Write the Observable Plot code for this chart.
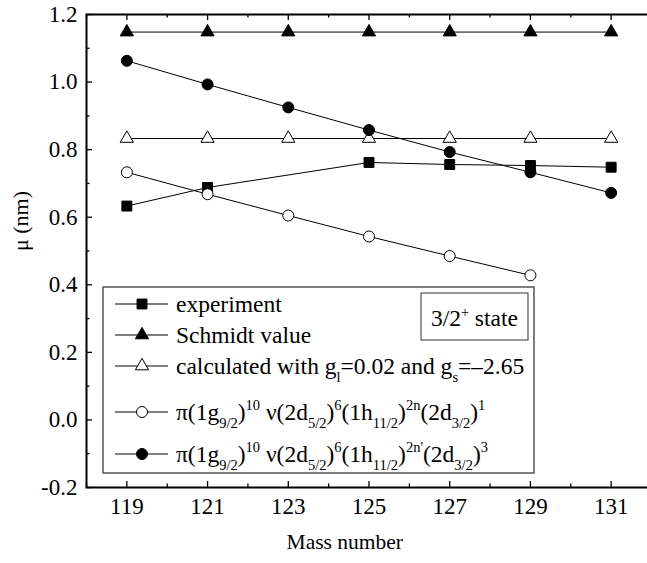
<!DOCTYPE html>
<html>
<head>
<meta charset="utf-8">
<script src="https://cdn.jsdelivr.net/npm/d3@7"></script>
<script src="https://cdn.jsdelivr.net/npm/@observablehq/plot@0.6"></script>
<style>
  html, body { margin: 0; padding: 0; background: white; }
  #chart { width: 647px; height: 563px; overflow: hidden; }
</style>
</head>
<body>
<div id="chart"></div>
<script>
// ---- data ----
const massNumbers = [119, 121, 123, 125, 127, 129, 131];
const experimentMass = [119, 121, 125, 127, 129, 131];
const experimentValues = [0.633, 0.688, 0.762, 0.756, 0.753, 0.748];
const schmidtValues = [1.148, 1.148, 1.148, 1.148, 1.148, 1.148, 1.148];
const calculatedValues = [0.833, 0.833, 0.833, 0.833, 0.833, 0.833, 0.833];
const config1Mass = [119, 121, 123, 125, 127, 129];
const config1Values = [0.733, 0.668, 0.605, 0.543, 0.485, 0.428];
const config3Values = [1.063, 0.993, 0.925, 0.858, 0.793, 0.733, 0.672];

const xMajorTicks = [119, 121, 123, 125, 127, 129, 131];
const xMinorTicks = [118, 120, 122, 124, 126, 128, 130, 132];
const yMajorTicks = [-0.2, 0, 0.2, 0.4, 0.6, 0.8, 1.0, 1.2];
const yMinorTicks = [-0.1, 0.1, 0.3, 0.5, 0.7, 0.9, 1.1];
const xDomain = [118, 132];
const yDomain = [-0.2, 1.2];

const xLabel = "Mass number";
const yLabel = "\u03bc (nm)";

const toRows = (xs, ys) => xs.map((x, i) => ({x, y: ys[i]}));
const experiment = toRows(experimentMass, experimentValues);
const schmidt = toRows(massNumbers, schmidtValues);
const calculated = toRows(massNumbers, calculatedValues);
const config1 = toRows(config1Mass, config1Values);
const config3 = toRows(massNumbers, config3Values);

const FONT = "Liberation Serif, Times New Roman, serif";
const R = {square: 5.6, triangle: 4.9, circle: 5.5};

function series(data, symbol, fill) {
  return [
    Plot.line(data, {x: "x", y: "y", stroke: "black", strokeWidth: 1}),
    Plot.dot(data, {x: "x", y: "y", symbol, r: R[symbol], fill, stroke: "black", strokeWidth: 1})
  ];
}

const plot = Plot.plot({
  width: 647,
  height: 563,
  marginLeft: 86,
  marginTop: 14,
  marginBottom: 76,
  marginRight: -4,
  x: {domain: xDomain},
  y: {domain: yDomain},
  style: {fontFamily: FONT, fontSize: "23px", background: "white", color: "black"},
  marks: [
    Plot.frame({stroke: "black", strokeWidth: 2}),
    Plot.ruleX(xMajorTicks, {x: d => d, y1: yDomain[0], y2: yDomain[0], insetTop: -6, stroke: "black", strokeWidth: 1.3}),
    Plot.ruleX(xMinorTicks, {x: d => d, y1: yDomain[0], y2: yDomain[0], insetTop: -3.5, stroke: "black", strokeWidth: 1.3}),
    Plot.ruleX(xMajorTicks, {x: d => d, y1: yDomain[1], y2: yDomain[1], insetBottom: -6, stroke: "black", strokeWidth: 1.3}),
    Plot.ruleX(xMinorTicks, {x: d => d, y1: yDomain[1], y2: yDomain[1], insetBottom: -3.5, stroke: "black", strokeWidth: 1.3}),
    Plot.ruleY(yMajorTicks, {y: d => d, x1: xDomain[0], x2: xDomain[0], insetRight: -6, stroke: "black", strokeWidth: 1.3}),
    Plot.ruleY(yMinorTicks, {y: d => d, x1: xDomain[0], x2: xDomain[0], insetRight: -3.5, stroke: "black", strokeWidth: 1.3}),
    Plot.axisX(xMajorTicks, {tickSize: 0, tickPadding: 10, label: null, fontSize: 23, fontFamily: FONT}),
    Plot.axisY(yMajorTicks, {tickSize: 0, tickPadding: 9, label: null, fontSize: 23, fontFamily: FONT, tickFormat: d => d.toFixed(1)}),
    Plot.text([xLabel], {text: d => d, x: () => 124.4, frameAnchor: "bottom", dy: 61, fontSize: 21.5, fontFamily: FONT}),
    Plot.text([yLabel], {text: d => d, frameAnchor: "left", dx: -66, rotate: -90, fontSize: 22, fontFamily: FONT}),
    ...series(calculated, "triangle", "white"),
    ...series(schmidt, "triangle", "black"),
    ...series(experiment, "square", "black"),
    ...series(config1, "circle", "white"),
    ...series(config3, "circle", "black")
  ]
});

document.getElementById("chart").appendChild(plot);

// ---- legend (drawn into the same SVG) ----
const svg = d3.select(plot);
const lg = svg.append("g").attr("font-family", FONT).attr("fill", "black").attr("text-anchor", "start");

lg.append("rect").attr("x", 103).attr("y", 287).attr("width", 431).attr("height", 186)
  .attr("fill", "white").attr("stroke", "#555").attr("stroke-width", 1.5);

const stateBox = lg.append("g");
stateBox.append("rect").attr("x", 421).attr("y", 293).attr("width", 107).attr("height", 47)
  .attr("fill", "white").attr("stroke", "#333").attr("stroke-width", 1);
const st = stateBox.append("text").attr("x", 431).attr("y", 326).attr("text-anchor", "start").attr("font-size", 23.5);
st.append("tspan").text("3/2");
st.append("tspan").attr("font-size", 14).attr("dy", -9).text("+");
st.append("tspan").attr("dy", 9).text(" state");

const legendItems = [
  {symbol: "square", fill: "black", y: 304, parts: [["n", "experiment"]]},
  {symbol: "triangle", fill: "black", y: 335, parts: [["n", "Schmidt value"]]},
  {symbol: "triangle", fill: "white", y: 366, parts: [["n", "calculated with g"], ["b", "l"], ["n", "=0.02 and g"], ["b", "s"], ["n", "=\u20132.65"]]},
  {symbol: "circle", fill: "white", y: 412, parts: [["n", "\u03c0(1g"], ["b", "9/2"], ["n", ")"], ["p", "10"], ["n", " \u03bd(2d"], ["b", "5/2"], ["n", ")"], ["p", "6"], ["n", "(1h"], ["b", "11/2"], ["n", ")"], ["p", "2n"], ["n", "(2d"], ["b", "3/2"], ["n", ")"], ["p", "1"]]},
  {symbol: "circle", fill: "black", y: 454, parts: [["n", "\u03c0(1g"], ["b", "9/2"], ["n", ")"], ["p", "10"], ["n", " \u03bd(2d"], ["b", "5/2"], ["n", ")"], ["p", "6"], ["n", "(1h"], ["b", "11/2"], ["n", ")"], ["p", "2n'"], ["n", "(2d"], ["b", "3/2"], ["n", ")"], ["p", "3"]]}
];
const symbolTypes = {square: d3.symbolSquare, triangle: d3.symbolTriangle, circle: d3.symbolCircle};

for (const item of legendItems) {
  lg.append("line").attr("x1", 115).attr("x2", 168).attr("y1", item.y).attr("y2", item.y)
    .attr("stroke", "black").attr("stroke-width", 1);
  const r = R[item.symbol];
  lg.append("path").attr("transform", `translate(142,${item.y})`)
    .attr("d", d3.symbol(symbolTypes[item.symbol], r * r * Math.PI)())
    .attr("fill", item.fill).attr("stroke", "black").attr("stroke-width", 1);
  const t = lg.append("text").attr("x", 176).attr("y", item.y + 8).attr("font-size", 23.5).attr("text-anchor", "start");
  let shift = 0;
  for (const [kind, str] of item.parts) {
    const target = kind === "b" ? 8 : kind === "p" ? -10 : 0;
    const sp = t.append("tspan").attr("dy", target - shift).text(str);
    if (kind !== "n") sp.attr("font-size", 14.5);
    shift = target;
  }
}
</script>
</body>
</html>
